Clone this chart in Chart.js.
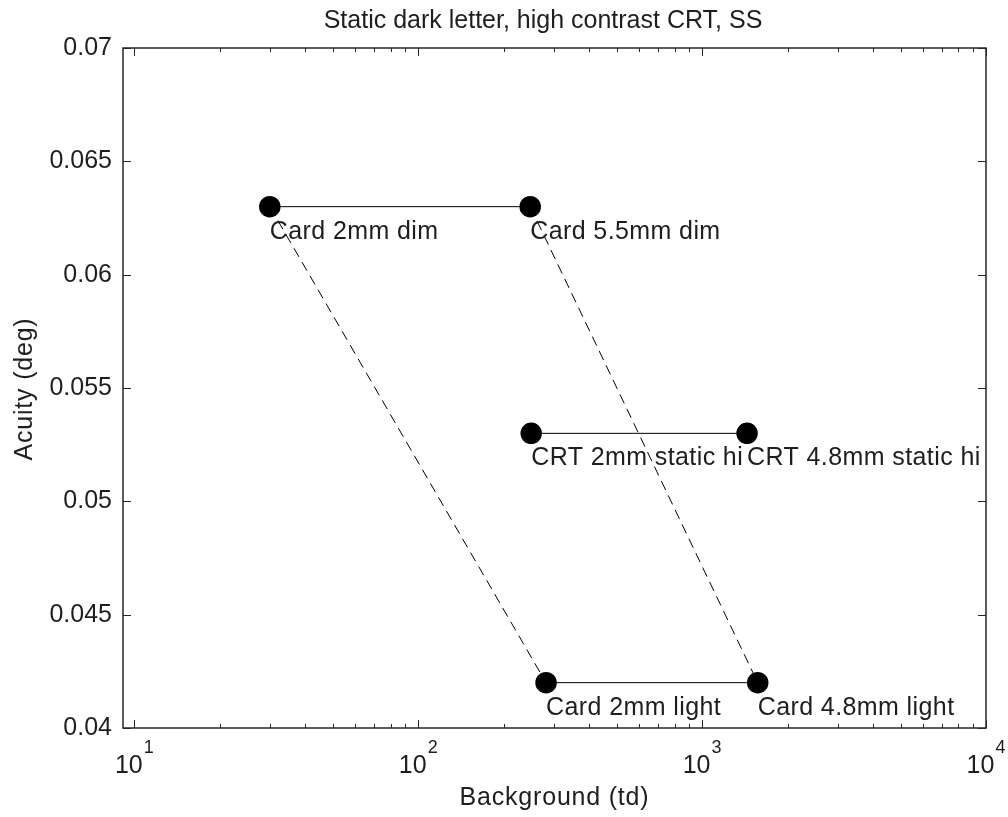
<!DOCTYPE html>
<html>
<head>
<meta charset="utf-8">
<title>Static dark letter, high contrast CRT, SS</title>
<script src="https://cdn.jsdelivr.net/npm/chart.js@4.4.1/dist/chart.umd.min.js"></script>
<style>
  html, body { margin: 0; padding: 0; background: #fff; }
  #wrap { width: 1008px; height: 817px; }
</style>
</head>
<body>
<div id="wrap"><canvas id="acuityChart" width="1008" height="817"></canvas></div>
<script>
// 数据
const pointLabels = ['Card 2mm dim', 'Card 5.5mm dim', 'CRT 2mm static hi', 'CRT 4.8mm static hi', 'Card 2mm light', 'Card 4.8mm light'];
const background = [30, 248, 250, 1440, 282, 1570];
const acuity = [0.063, 0.063, 0.053, 0.053, 0.042, 0.042];
const solidPairs = [[0, 1], [2, 3], [4, 5]];
const dashedPairs = [[0, 4], [1, 5]];
const yTicks = [0.04, 0.045, 0.05, 0.055, 0.06, 0.065, 0.07];
const yTickLabels = ['0.04', '0.045', '0.05', '0.055', '0.06', '0.065', '0.07'];
const xDecades = [1, 2, 3, 4];
const xMinor = [2, 3, 4, 5, 6, 7, 8, 9];

const FONT = '"Liberation Sans", Arial, Helvetica, sans-serif';
const INK = '#000';
const TEXT = '#1e1e1e';
const AXIS = '#262626';

function pairData(p) {
  return p.map(i => ({ x: background[i], y: acuity[i] }));
}

const datasets = [{
  label: 'points',
  data: background.map((x, i) => ({ x: x, y: acuity[i] })),
  showLine: false,
  pointRadius: 10,
  pointBackgroundColor: INK,
  pointBorderColor: INK,
  pointBorderWidth: 1.5,
  order: 0
}];

solidPairs.forEach(p => datasets.push({
  data: pairData(p),
  showLine: true,
  borderColor: INK,
  borderWidth: 1,
  pointRadius: 0,
  order: 1
}));

dashedPairs.forEach(p => datasets.push({
  data: pairData(p),
  showLine: true,
  borderColor: INK,
  borderWidth: 1,
  borderDash: [10, 6],
  pointRadius: 0,
  order: 1
}));

// 坐标轴框、刻度和文字
const matlabAxes = {
  id: 'matlabAxes',
  afterDatasetsDraw(chart) {
    const ctx = chart.ctx;
    const xs = chart.scales.x, ys = chart.scales.y;
    ctx.save();
    ctx.font = '25px ' + FONT;
    ctx.letterSpacing = '0.4px';
    ctx.fillStyle = TEXT;
    ctx.textAlign = 'left';
    ctx.textBaseline = 'alphabetic';
    pointLabels.forEach((t, i) => {
      ctx.fillText(t, xs.getPixelForValue(background[i]), ys.getPixelForValue(acuity[i]) + 32);
    });
    ctx.restore();
  },
  afterDraw(chart) {
    const ctx = chart.ctx;
    const a = chart.chartArea;
    const xs = chart.scales.x, ys = chart.scales.y;
    ctx.save();
    ctx.strokeStyle = AXIS;
    ctx.lineWidth = 1.5;
    ctx.strokeRect(a.left, a.top, a.right - a.left, a.bottom - a.top);

    ctx.lineWidth = 1;
    ctx.beginPath();
    yTicks.forEach(v => {
      const py = Math.round(ys.getPixelForValue(v)) + 0.5;
      ctx.moveTo(a.left, py); ctx.lineTo(a.left + 8, py);
      ctx.moveTo(a.right, py); ctx.lineTo(a.right - 8, py);
    });
    xDecades.forEach(d => {
      const px = Math.round(xs.getPixelForValue(Math.pow(10, d))) + 0.5;
      ctx.moveTo(px, a.bottom); ctx.lineTo(px, a.bottom - 8);
      ctx.moveTo(px, a.top); ctx.lineTo(px, a.top + 8);
      if (d < 4) {
        xMinor.forEach(m => {
          const qx = Math.round(xs.getPixelForValue(m * Math.pow(10, d))) + 0.5;
          ctx.moveTo(qx, a.bottom); ctx.lineTo(qx, a.bottom - 4);
          ctx.moveTo(qx, a.top); ctx.lineTo(qx, a.top + 4);
        });
      }
    });
    ctx.stroke();

    // x 轴刻度文字 10^n
    ctx.fillStyle = TEXT;
    ctx.textAlign = 'left';
    ctx.textBaseline = 'alphabetic';
    xDecades.forEach(d => {
      const px = xs.getPixelForValue(Math.pow(10, d));
      ctx.font = '25px ' + FONT;
      const wb = ctx.measureText('10').width;
      ctx.font = '18px ' + FONT;
      const ws = ctx.measureText(String(d)).width;
      const x0 = px - (wb + ws + 1) / 2;
      ctx.font = '25px ' + FONT;
      ctx.fillText('10', x0, 773);
      ctx.font = '18px ' + FONT;
      ctx.fillText(String(d), x0 + wb + 1, 753);
    });

    // 标题和轴标题
    ctx.font = '25px ' + FONT;
    ctx.textAlign = 'center';
    ctx.fillText('Static dark letter, high contrast CRT, SS', 543, 28);
    ctx.letterSpacing = '0.8px';
    ctx.fillText('Background (td)', (a.left + a.right) / 2, 805);
    ctx.translate(25, 389);
    ctx.rotate(-Math.PI / 2);
    ctx.textBaseline = 'middle';
    ctx.fillText('Acuity (deg)', 0, 0);
    ctx.restore();
  }
};

const ctx = document.getElementById('acuityChart').getContext('2d');
new Chart(ctx, {
  type: 'scatter',
  data: { datasets: datasets },
  options: {
    responsive: false,
    animation: false,
    events: [],
    layout: { padding: { top: 48, right: 22, bottom: 0, left: 0 } },
    plugins: {
      legend: { display: false },
      tooltip: { enabled: false },
      title: { display: false }
    },
    scales: {
      x: {
        type: 'logarithmic',
        min: 9.12,
        max: 10000,
        grid: { display: false, drawTicks: false },
        border: { display: false },
        ticks: { display: false },
        afterFit: s => { s.height = 89; }
      },
      y: {
        type: 'linear',
        min: 0.04,
        max: 0.07,
        grid: { display: false, drawTicks: false },
        border: { display: false },
        afterBuildTicks: s => { s.ticks = yTicks.map(v => ({ value: v })); },
        ticks: {
          padding: 11,
          color: TEXT,
          font: { family: FONT, size: 25 },
          callback: (v, i) => yTickLabels[i]
        },
        afterFit: s => { s.width = 123; }
      }
    }
  },
  plugins: [matlabAxes]
});
</script>
</body>
</html>
